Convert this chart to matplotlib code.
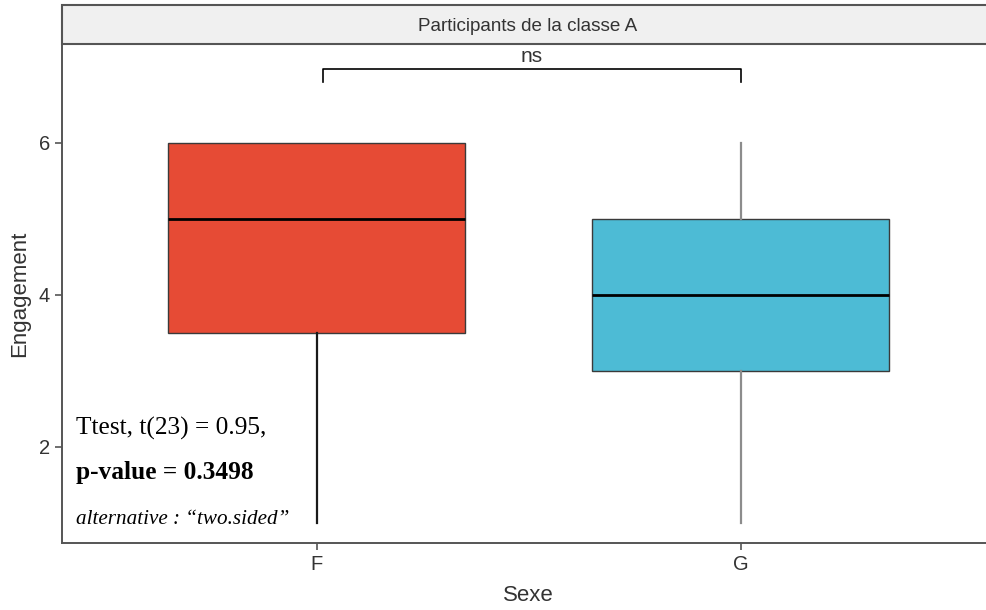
import matplotlib
matplotlib.use("Agg")
import matplotlib.pyplot as plt
from matplotlib.patches import Rectangle

plt.rcParams['font.family'] = ['Liberation Sans', 'DejaVu Sans']

# data
groups = ['F', 'G']
low_whisker = [1, 1]
q1 = [3.5, 3]
median = [5, 4]
q3 = [6, 5]
high_whisker = [6, 6]
box_colors = ['#E64B35', '#4DBBD5']
whisker_colors = ['#1a1a1a', '#8c8c8c']

facet_title = 'Participants de la classe A'
signif_label = 'ns'
signif_pair = (1.015, 2.0)
signif_y = 6.97
stat_lines = ['Ttest, t(23) = 0.95,', 'p-value = 0.3498', 'alternative : \u201ctwo.sided\u201d']

fig = plt.figure(figsize=(9.87, 6.10), dpi=100)
ax = fig.add_axes([0.0628, 0.1098, 0.9458, 0.818])

stats = []
for i, g in enumerate(groups):
    stats.append({'label': g, 'whislo': low_whisker[i], 'q1': q1[i], 'med': median[i],
                  'q3': q3[i], 'whishi': high_whisker[i], 'fliers': []})

bp = ax.bxp(stats, positions=[1, 2], widths=0.7, patch_artist=True, showcaps=False,
            showfliers=False,
            boxprops=dict(edgecolor='#3a3a3a', linewidth=1.0),
            medianprops=dict(color='black', linewidth=2.0))
for i, box in enumerate(bp['boxes']):
    box.set_facecolor(box_colors[i])
for i, w in enumerate(bp['whiskers']):
    w.set_color(whisker_colors[i // 2])
    w.set_linewidth(1.6)

# significance bracket
x0, x1 = signif_pair
ax.plot([x0, x0, x1, x1], [signif_y - 0.17, signif_y, signif_y, signif_y - 0.17],
        color='black', lw=1.2, clip_on=False)
ax.text((x0 + x1) / 2, signif_y + 0.04, signif_label, ha='center', va='bottom',
        fontsize=15, color='#333333')

# t-test annotation
ax.text(0.433, 2.25, stat_lines[0], family='Liberation Serif', fontsize=18.3,
        va='center', ha='left', color='black')
ax.text(0.433, 1.66, stat_lines[1], family='Liberation Serif', fontsize=18.3,
        fontweight='bold', va='center', ha='left', color='black')
ax.text(0.433, 1.05, stat_lines[2], family='Liberation Serif', fontsize=15.2,
        style='italic', va='center', ha='left', color='black')

ax.set_xlim(0.4, 2.6)
ax.set_ylim(0.737, 7.30)
ax.set_yticks([2, 4, 6])
ax.set_xticks([1, 2])
ax.set_xticklabels(groups)

for side in ['top', 'right']:
    ax.spines[side].set_visible(False)
for side in ['left', 'bottom']:
    ax.spines[side].set_color('#555555')
    ax.spines[side].set_linewidth(1.4)
ax.tick_params(axis='both', colors='#555555', length=5, width=1.2, labelsize=14.5,
               labelcolor='#333333')

ax.set_xlabel('Sexe', fontsize=16, color='#333333', labelpad=8)
ax.set_ylabel('Engagement', fontsize=16, color='#333333', labelpad=6)

# facet strip (runs off the right edge, as in the reference crop)
strip = Rectangle((0.0628, 0.928), 0.97, 0.0638, transform=fig.transFigure,
                  facecolor='#F0F0F0', edgecolor='#555555', linewidth=1.5, clip_on=False)
fig.patches.append(strip)
fig.text(0.535, 0.956, facet_title, ha='center', va='center', fontsize=13.6,
         color='#333333')

fig.savefig('out.png', dpi=100)
